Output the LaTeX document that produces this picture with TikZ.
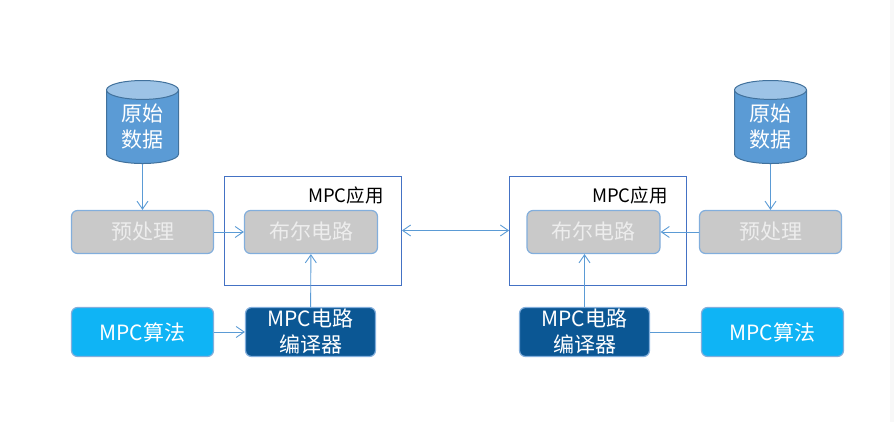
\documentclass[tikz,border=0pt]{standalone}
\usepackage{fontspec}
\setmainfont{Noto Sans CJK SC}
\usepackage{xcolor}
\usetikzlibrary{shapes.geometric,positioning,arrows.meta}
\definecolor{linkblue}{HTML}{5B9BD5}
\definecolor{edgeblue}{HTML}{82AEDC}
\definecolor{framblue}{HTML}{4472C4}
\definecolor{toplight}{HTML}{9DC3E6}
\definecolor{cylline}{HTML}{41719C}
\definecolor{boxgray}{HTML}{C9C9C9}
\definecolor{algoblue}{HTML}{0FB4F5}
\definecolor{compblue}{HTML}{0B5794}
\definecolor{sidegray}{HTML}{F8F8F8}
\tikzset{
    databox/.style={cylinder, shape border rotate=90, aspect=0.45, draw=cylline, line width=1pt,
        cylinder uses custom fill, cylinder body fill=linkblue, cylinder end fill=toplight,
        minimum width=72pt, minimum height=83pt, inner sep=0pt, text=white, align=center,
        font=\fontsize{21}{26}\selectfont},
    flowbox/.style={rectangle, rounded corners=6pt, draw=edgeblue, line width=1.2pt, inner sep=0pt,
        text=white, align=center, font=\fontsize{21}{26}\selectfont},
    prebox/.style={flowbox, fill=boxgray, text=white!93!black, minimum width=142pt, minimum height=43pt},
    boolbox/.style={flowbox, fill=boxgray, text=white!93!black, minimum width=133pt, minimum height=43pt},
    algobox/.style={flowbox, fill=algoblue, minimum width=142pt, minimum height=49pt},
    compbox/.style={flowbox, fill=compblue, minimum width=130pt, minimum height=49pt},
    appbox/.style={rectangle, draw=framblue, line width=0.8pt, minimum width=177pt, minimum height=109pt, inner sep=0pt},
    applabel/.style={inner sep=0pt, font=\fontsize{18.5}{22}\selectfont},
    link/.style={draw=linkblue, line width=0.9pt, -{Straight Barb[length=8pt,width=11pt]}},
    biglink/.style={link, {Straight Barb[length=8pt,width=11pt]}-{Straight Barb[length=8pt,width=11pt]}}
}
\begin{document}
\begin{tikzpicture}[x=1pt, y=1pt]
    \useasboundingbox (0,0) rectangle (894,422);
    \fill[sidegray] (890,0) rectangle (894,422);

    % left party
    \node [appbox] (appL) at (313,191.5) {};
    \node [applabel] (appLtext) at (346,227) {MPC应用};
    \node [databox] (dataL) at (142.5,295) {原始\\数据};
    \node [prebox] (preL) at (142.5,190) {预处理};
    \node [boolbox] (boolL) at (311,190) {布尔电路};
    \node [algobox] (algoL) at (142.5,90) {MPC算法};
    \node [compbox] (compL) at (310.5,90) {MPC电路\\编译器};

    % right party
    \node [appbox] (appR) at (598,191.5) {};
    \node [applabel] (appRtext) at (630,227) {MPC应用};
    \node [databox] (dataR) at (770.5,295) {原始\\数据};
    \node [prebox] (preR) at (770.5,190) {预处理};
    \node [boolbox] (boolR) at (593.5,190) {布尔电路};
    \node [algobox] (algoR) at (772.5,90) {MPC算法};
    \node [compbox] (compR) at (584.5,90) {MPC电路\\编译器};

    \draw [link] (dataL) -- (preL);
    \draw [link] (preL) -- (boolL);
    \draw [link] (algoL) -- (compL);
    \draw [link] (compL) -- (boolL);

    \draw [link] (dataR) -- (preR);
    \draw [link] (preR) -- (boolR);
    \draw [draw=linkblue, line width=0.9pt] (algoR) -- (compR);
    \draw [link] (compR.north) -- (compR.north |- boolR.south);

    \draw [biglink] (appL) -- (appR);
\end{tikzpicture}
\end{document}
